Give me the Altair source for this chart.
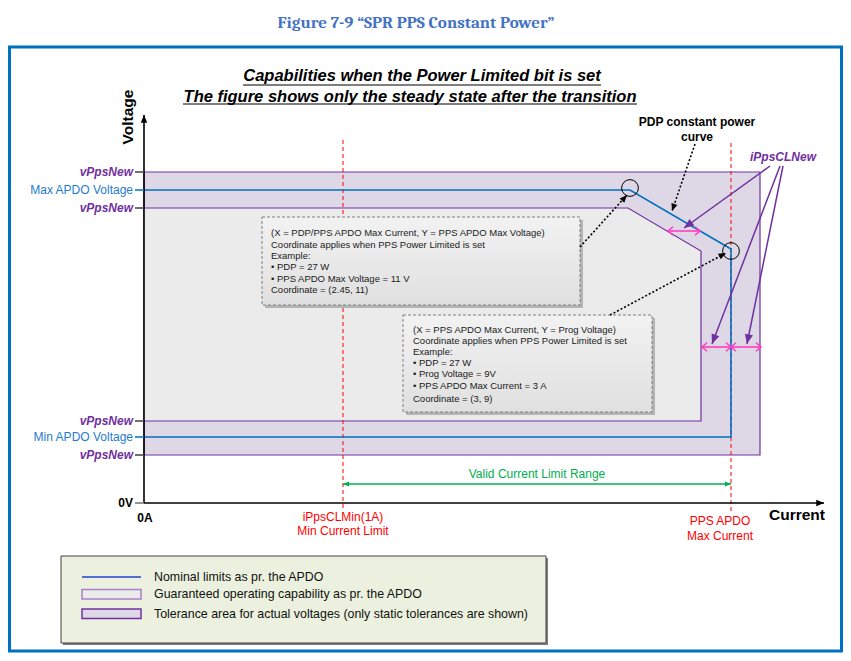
import math
import altair as alt
import pandas as pd

# ---------------- canvas: diagram units (≈ pixels) ----------------
W, H = 835, 645
X_DOM = [8, 843]
Y_DOM = [8, 653]
SX = W / (X_DOM[1] - X_DOM[0])
SY = H / (Y_DOM[1] - Y_DOM[0])

FONT = "Liberation Sans, Arial, Helvetica, sans-serif"
NARROW = "Liberation Sans Narrow, Arial Narrow, Liberation Sans, sans-serif"
SERIF = "Cambria, Liberation Serif, DejaVu Serif, serif"

PURPLE = "#7030A0"
BLUE = "#0070C0"
LBLUE = "#1F7BD0"
RED = "#FF0000"
GREEN = "#00B050"
PINK = "#FF3EC0"

# ---------------- data ----------------
title_text = ["Figure 7-9 \u201cSPR PPS Constant Power\u201d"]
title_pos = [416, 23]

subtitle_lines = ["Capabilities when the Power Limited bit is set",
                  "The figure shows only the steady state after the transition"]
subtitle_x = [422, 410]
subtitle_y = [76, 96.5]
underline_x1 = [243, 183]
underline_x2 = [601, 637]
underline_y = [85, 104]

frame_box = [9.5, 47, 841.5, 651]

# tolerance band (outer) and guaranteed region (inner)
tol_box = [144, 172, 760, 455]
guar_x = [144, 628, 701]
guar_top = [208, 208, 251]
guar_bottom = 421
guar_outline_x = [144, 628, 701, 701, 144]
guar_outline_y = [208, 208, 251, 421, 421]

# nominal APDO limits (blue)
nominal_x = [144, 630, 731, 731, 144]
nominal_y = [190, 190, 249, 437, 437]

# red dashed current limits
limit_x = [343, 731]
limit_top = [140, 143]
limit_bottom = [511, 511]

# y-axis labels
vpps_y = [172, 208, 421, 455]
apdo_labels = ["Max APDO Voltage", "Min APDO Voltage"]
apdo_y = [190, 437]
ytick_y = [172, 190, 208, 421, 437, 455, 503]
ytick_color = ["#404040", BLUE, "#404040", "#404040", BLUE, "#404040", "#707070"]

# x labels
xlab_text = ["iPpsCLMin(1A)", "Min Current Limit", "PPS APDO", "Max Current"]
xlab_x = [343, 343, 720, 720]
xlab_y = [517, 531, 521, 536]

# circles at the corners
circle_x = [630, 731]
circle_y = [188, 251]

# call-out boxes
box1 = [262, 217, 580, 305]
box1_lines = ["(X = PDP/PPS APDO Max Current, Y =  PPS APDO Max Voltage)",
              "Coordinate applies when PPS Power Limited is set",
              "Example:",
              "\u2022 PDP = 27 W",
              "\u2022 PPS APDO Max Voltage = 11 V",
              "Coordinate = (2.45, 11)"]
box1_y = [233, 244.5, 255.7, 266.8, 278.5, 290]
box2 = [403, 315, 652, 412]
box2_lines = ["(X = PPS APDO Max Current, Y =  Prog Voltage)",
              "Coordinate applies when PPS Power Limited is set",
              "Example:",
              "\u2022 PDP = 27 W",
              "\u2022 Prog Voltage = 9V",
              "\u2022 PPS APDO Max Current = 3 A",
              "Coordinate = (3, 9)"]
box2_y = [329.5, 340.7, 351.7, 362.5, 374, 385.7, 398.5]

# arrows (start x, start y, end x, end y)
dotted_arrows = [(580, 247, 627, 195), (610, 315, 726, 253), (695, 144, 672, 211)]
purple_arrows = [(770, 166, 684, 228), (780, 166, 712, 344), (783, 166, 747, 344)]
pink_arrows = [(668, 231, 700, 231), (702, 347, 731, 347), (731, 347, 761, 347)]
green_arrow = [(343, 484, 731, 484)]
axis_arrows = [(144, 503, 144, 115), (144, 503, 824, 503)]

# legend
legend_box = [61, 556, 546, 643]
legend_text = ["Nominal limits as pr. the APDO",
               "Guaranteed operating capability as pr. the APDO",
               "Tolerance area for actual voltages (only static tolerances are shown)"]
legend_text_y = [577, 594, 613.5]
legend_sym_x = [82, 141]

# ---------------- helpers ----------------
xs = alt.Scale(domain=X_DOM, range=[0, W], nice=False, zero=False)
ys = alt.Scale(domain=Y_DOM, range=[0, H], nice=False, zero=False)


def ex(f="x"):
    return alt.X(f"{f}:Q", scale=xs, axis=None)


def ey(f="y"):
    return alt.Y(f"{f}:Q", scale=ys, axis=None)


def rects(boxes, **kw):
    df = pd.DataFrame([{"x": b[0], "y": b[1], "x2": b[2], "y2": b[3]} for b in boxes])
    return alt.Chart(df).mark_rect(**kw).encode(
        x=ex("x"), x2=alt.X2("x2:Q"), y=ey("y"), y2=alt.Y2("y2:Q"))


def texts(t, x, y, **kw):
    n = len(t)
    if not isinstance(x, list):
        x = [x] * n
    if not isinstance(y, list):
        y = [y] * n
    df = pd.DataFrame({"t": t, "x": x, "y": y})
    kw.setdefault("font", FONT)
    kw.setdefault("baseline", "middle")
    return alt.Chart(df).mark_text(**kw).encode(x=ex("x"), y=ey("y"), text="t:N")


def segs(lst, **kw):
    df = pd.DataFrame([{"x": a, "y": b, "x2": c, "y2": d} for a, b, c, d in lst])
    return alt.Chart(df).mark_rule(**kw).encode(
        x=ex("x"), y=ey("y"), x2=alt.X2("x2:Q"), y2=alt.Y2("y2:Q"))


HEAD = "M0,0L-1,-0.42L-1,0.42Z"
CHEV = "M-1,-0.85L0,0L-1,0.85"


def heads(lst, shape, size, color, filled=True, sw=1.0, double=False):
    rows = []
    for a, b, c, d in lst:
        ang = math.degrees(math.atan2((d - b) * SY, (c - a) * SX)) % 360
        rows.append({"x": c, "y": d, "ang": ang})
        if double:
            rows.append({"x": a, "y": b, "ang": (ang + 180) % 360})
    df = pd.DataFrame(rows)
    return alt.Chart(df).mark_point(shape=shape, size=size, filled=filled, color=color,
                                    strokeWidth=sw, opacity=1).encode(
        x=ex("x"), y=ey("y"), angle=alt.Angle("ang:Q", scale=None))


def path(xv, yv, **kw):
    df = pd.DataFrame({"x": xv, "y": yv, "i": list(range(len(xv)))})
    return alt.Chart(df).mark_line(**kw).encode(x=ex("x"), y=ey("y"), order=alt.Order("i:Q"))


layers = []

# frame and titles
layers.append(rects([frame_box], fill="white", fillOpacity=0, stroke=BLUE, strokeWidth=3))
layers.append(texts(title_text, title_pos[0], title_pos[1], font=SERIF, fontSize=17,
                    fontWeight="bold", color="#4472C4", align="center"))
layers.append(texts(subtitle_lines, subtitle_x, subtitle_y, font=NARROW, fontSize=16.5,
                    fontWeight="bold", fontStyle="italic", color="black", align="center"))
layers.append(segs([(a, y, b, y) for a, b, y in zip(underline_x1, underline_x2, underline_y)],
                   color="black", strokeWidth=1.2))

# regions
layers.append(rects([tol_box], fill="#DED8E6", stroke=PURPLE, strokeWidth=1.2))
guar_df = pd.DataFrame({"x": guar_x, "y": guar_top, "y2": [guar_bottom] * len(guar_x)})
layers.append(alt.Chart(guar_df).mark_area(color="#EBEBEB", opacity=1).encode(
    x=ex("x"), y=ey("y"), y2=alt.Y2("y2:Q")))
layers.append(path(guar_outline_x, guar_outline_y, color=PURPLE, strokeWidth=1.2))

# red dashed limits
layers.append(segs([(x, t, x, b) for x, t, b in zip(limit_x, limit_top, limit_bottom)],
                   color=RED, strokeWidth=1, strokeDash=[4, 3]))

# nominal
layers.append(path(nominal_x, nominal_y, color=BLUE, strokeWidth=1.6))

# call-out boxes
box_grad = alt.Gradient(gradient="linear",
                        stops=[alt.GradientStop(color="#F2F2F2", offset=0),
                               alt.GradientStop(color="#E0E0E0", offset=1)],
                        x1=0, x2=0, y1=0, y2=1)
layers.append(rects([[b[0] + 3, b[1] + 3, b[2] + 3, b[3] + 3] for b in (box1, box2)],
                    fill="#B4B4B4"))
layers.append(rects([box1, box2], fill=box_grad, stroke="#7F7F7F", strokeWidth=1,
                    strokeDash=[3, 2]))
layers.append(texts(box1_lines, box1[0] + 9, box1_y, fontSize=9.5, color="#1A1A1A", align="left"))
layers.append(texts(box2_lines, box2[0] + 10, box2_y, fontSize=9.5, color="#1A1A1A", align="left"))

# valid range
layers.append(segs(green_arrow, color=GREEN, strokeWidth=1.5))
layers.append(heads(green_arrow, HEAD, 150, GREEN, double=True))
layers.append(texts(["Valid Current Limit Range"], 537, 474, fontSize=12, color=GREEN, align="center"))

# dotted black arrows
layers.append(segs(dotted_arrows, color="black", strokeWidth=1.6, strokeDash=[2, 2]))
layers.append(heads(dotted_arrows, HEAD, 225, "black"))

# circles
circ_df = pd.DataFrame({"x": circle_x, "y": circle_y})
layers.append(alt.Chart(circ_df).mark_point(shape="circle", size=280, filled=False, color="black",
                                            strokeWidth=1, opacity=1).encode(x=ex("x"), y=ey("y")))

# pink tolerance arrows
layers.append(segs(pink_arrows, color=PINK, strokeWidth=1.6))
layers.append(heads(pink_arrows, CHEV, 100, PINK, filled=False, sw=1.6, double=True))

# purple pointer arrows
layers.append(segs(purple_arrows, color=PURPLE, strokeWidth=1.5))
layers.append(heads(purple_arrows, HEAD, 380, PURPLE))
layers.append(texts(["iPpsCLNew"], 783, 157, fontSize=12, fontWeight="bold", fontStyle="italic",
                    color=PURPLE, align="center"))
layers.append(texts(["PDP constant power", "curve"], 697, [122, 136.5], fontSize=12,
                    fontWeight="bold", color="black", align="center"))

# axes
layers.append(segs(axis_arrows, color="black", strokeWidth=1.6))
layers.append(heads(axis_arrows, HEAD, 240, "black"))
tick_df = pd.DataFrame({"x": [135] * len(ytick_y), "x2": [144] * len(ytick_y), "y": ytick_y,
                        "c": ytick_color})
layers.append(alt.Chart(tick_df).mark_rule(strokeWidth=1.5).encode(
    x=ex("x"), x2=alt.X2("x2:Q"), y=ey("y"), color=alt.Color("c:N", scale=None)))
layers.append(texts(["vPpsNew"] * len(vpps_y), 133, vpps_y, fontSize=12, fontWeight="bold",
                    fontStyle="italic", color=PURPLE, align="right"))
layers.append(texts(apdo_labels, 133, apdo_y, fontSize=12, color=LBLUE, align="right"))
layers.append(texts(["0V"], 133, 503, fontSize=12, fontWeight="bold", color="black", align="right"))
layers.append(texts(["0A"], 145, 517.5, fontSize=12, fontWeight="bold", color="black", align="center"))
layers.append(texts(["Voltage"], 128, 117, fontSize=15.5, fontWeight="bold", color="black",
                    align="center", angle=270))
layers.append(texts(["Current"], 797, 515, fontSize=15.5, fontWeight="bold", color="black",
                    align="center"))
layers.append(texts(xlab_text, xlab_x, xlab_y, fontSize=12, color=RED, align="center"))

# legend
lb = legend_box
layers.append(rects([[lb[0] + 2, lb[1] + 2, lb[2] + 2, lb[3] + 2]], fill="#7F7F7F"))
layers.append(rects([lb], fill="#EBF1DE", stroke="#404040", strokeWidth=1))
layers.append(segs([(legend_sym_x[0], legend_text_y[0], legend_sym_x[1], legend_text_y[0])],
                   color="#2040D0", strokeWidth=1.5))
layers.append(rects([[legend_sym_x[0], 589.5, legend_sym_x[1], 599]], fill="#EBEBEB",
                    stroke="#A680C8", strokeWidth=1.5))
layers.append(rects([[legend_sym_x[0], 609, legend_sym_x[1], 618.5]], fill="#DED8E6",
                    stroke=PURPLE, strokeWidth=1.5))
layers.append(texts(legend_text, 154, legend_text_y, fontSize=12.4, color="#111111", align="left"))

chart = alt.layer(*layers).properties(
    width=W, height=H, padding=0, autosize=alt.AutoSizeParams(type="none"), background="white"
).configure_view(stroke=None)

chart.save("out.html", embed_options={"renderer": "svg", "actions": False})
